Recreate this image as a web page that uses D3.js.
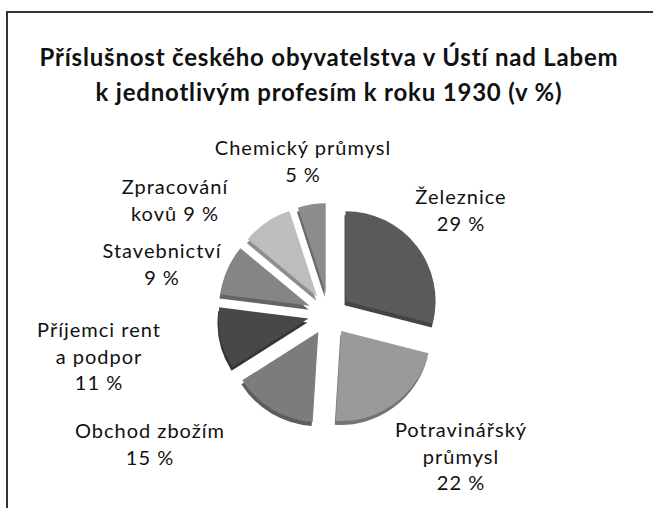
<!DOCTYPE html>
<html>
<head>
<meta charset="utf-8">
<script src="https://cdn.jsdelivr.net/npm/d3@7"></script>
<style>
  body { margin: 0; background: #fff; }
  svg { display: block; }
</style>
</head>
<body>
<div id="chart"></div>
<script>
// data
const categories = ["Železnice", "Potravinářský průmysl", "Obchod zbožím", "Příjemci rent a podpor",
                    "Stavebnictví", "Zpracování kovů", "Chemický průmysl"];
const values = [29, 22, 15, 11, 9, 9, 5];
const labelLines = [
  ["Železnice", "29 %"],
  ["Potravinářský", "průmysl", "22 %"],
  ["Obchod zbožím", "15 %"],
  ["Příjemci rent", "a podpor", "11 %"],
  ["Stavebnictví", "9 %"],
  ["Zpracování", "kovů 9 %"],
  ["Chemický průmysl", "5 %"]
];
const titleLines = ["Příslušnost českého obyvatelstva v Ústí nad Labem",
                    "k jednotlivým profesím k roku 1930 (v %)"];

const W = 653, H = 508;
const cx = 329, cy = 314, R = 90, explode = 21;
const fills = ["#5a5a5a", "#9a9a9a", "#7c7c7c", "#484848", "#858585", "#bdbdbd", "#8c8c8c"];
// label anchor (centre x, first baseline y)
const labelPos = [[461, 204], [461, 437], [150, 438], [99, 337], [162, 258], [175, 194], [303, 155]];

const svg = d3.select("#chart").append("svg")
  .attr("width", W).attr("height", H);

svg.append("rect")
  .attr("x", 7).attr("y", 12)
  .attr("width", 700).attr("height", 600)
  .attr("fill", "none")
  .attr("stroke", "#333")
  .attr("stroke-width", 2);

svg.append("g").selectAll("text")
  .data(titleLines)
  .join("text")
  .attr("x", 329)
  .attr("y", (d, i) => 66 + i * 35)
  .attr("text-anchor", "middle")
  .attr("font-family", "Lato, sans-serif")
  .attr("font-weight", "bold")
  .attr("font-size", 24)
  .attr("letter-spacing", 0.8)
  .attr("fill", "#111")
  .text(d => d);

const pie = d3.pie().sort(null).value(d => d);
const arcs = pie(values);
const arc = d3.arc().innerRadius(0).outerRadius(R);

const g = svg.append("g").attr("transform", `translate(${cx},${cy})`);

const slice = g.selectAll("g.slice")
  .data(arcs)
  .join("g")
  .attr("class", "slice")
  .attr("transform", d => {
    const a = (d.startAngle + d.endAngle) / 2;
    return `translate(${Math.sin(a) * explode},${-Math.cos(a) * explode})`;
  });

// side (thickness) of each slice
slice.append("path")
  .attr("d", arc)
  .attr("transform", "translate(-1,4)")
  .attr("fill", (d, i) => d3.color(fills[i]).darker(0.8));

slice.append("path")
  .attr("d", arc)
  .attr("fill", (d, i) => fills[i]);

const lab = svg.append("g").selectAll("text")
  .data(labelLines)
  .join("text")
  .attr("text-anchor", "middle")
  .attr("font-family", "Lato, sans-serif")
  .attr("font-size", 20)
  .attr("letter-spacing", 1)
  .attr("fill", "#111");

lab.selectAll("tspan")
  .data((d, i) => d.map(t => ({ t, i })))
  .join("tspan")
  .attr("x", d => labelPos[d.i][0])
  .attr("y", (d, j) => labelPos[d.i][1] + j * 26.5)
  .text(d => d.t);
</script>
</body>
</html>
